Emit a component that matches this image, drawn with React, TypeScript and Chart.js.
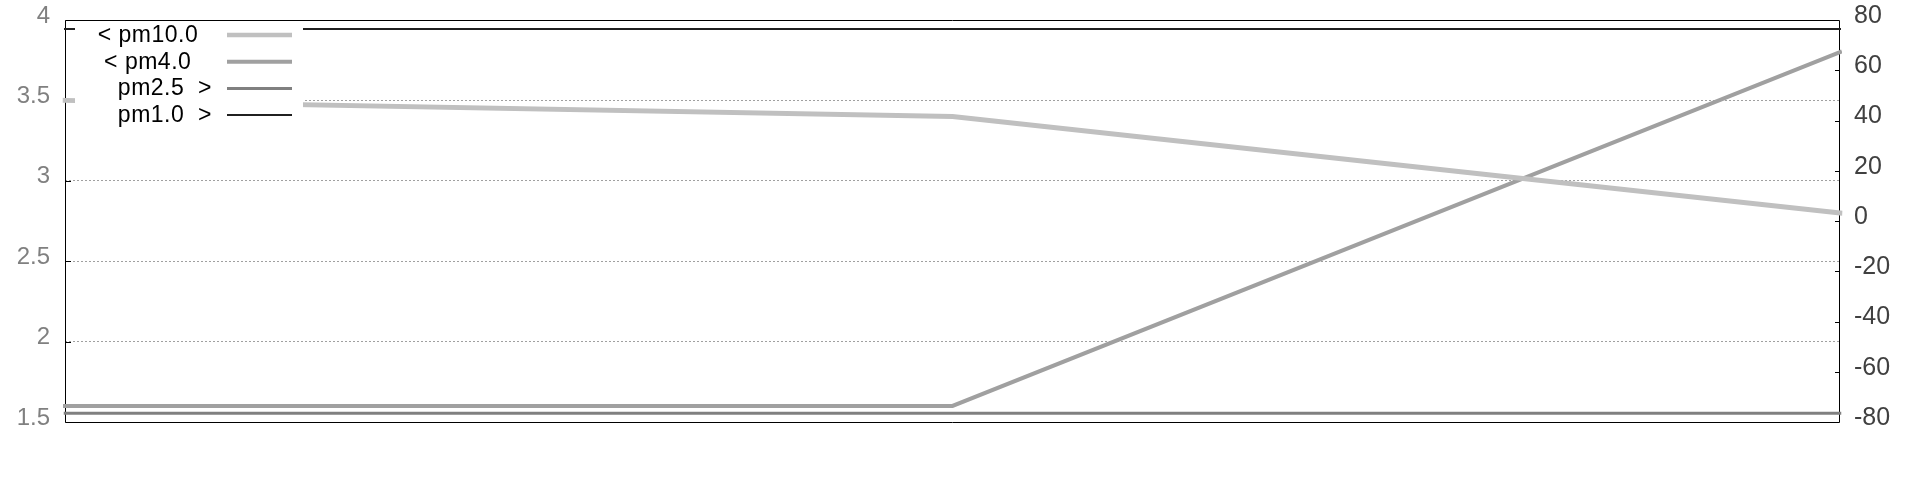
import React, { useEffect, useRef } from "react";
import { Chart, registerables } from "chart.js";

Chart.register(...registerables);

const categories = ["t1", "t2", "t3"];
const pm10Values = [3.5, 3.4, 2.8];
const pm4Values = [1.6, 1.6, 3.8];
const pm25Values = [-76.5, -76.5, -76.5];
const pm1Values = [76.4, 76.4, 76.4];
const seriesLabels = ["< pm10.0  ", "< pm4.0   ", "pm2.5  >", "pm1.0  >"];
const seriesColors = ["#c0c0c0", "#a0a0a0", "#808080", "#202020"];
const seriesWidths = [5, 4, 3, 2];
const leftTicks = { min: 1.5, max: 4, step: 0.5 };
const rightTicks = { min: -80, max: 80, step: 20 };

const FONT = "'Liberation Sans', Arial, sans-serif";

const boxAndTicks = {
  id: "boxAndTicks",
  beforeDatasetsDraw(chart: any) {
    const { ctx, chartArea: a, scales } = chart;
    ctx.save();
    ctx.strokeStyle = "#000";
    ctx.lineWidth = 1;
    ctx.beginPath();
    ctx.rect(a.left + 0.5, a.top + 0.5, a.right - a.left - 1, a.bottom - a.top);
    ctx.stroke();
    const y = scales.y;
    y.ticks.forEach((t: any) => {
      if (t.value <= y.min || t.value >= y.max) return;
      const py = Math.round(y.getPixelForValue(t.value)) + 0.5;
      ctx.beginPath();
      ctx.moveTo(a.left, py);
      ctx.lineTo(a.left + 6, py);
      ctx.stroke();
    });
    const y1 = scales.y1;
    y1.ticks.forEach((t: any) => {
      if (t.value <= y1.min || t.value >= y1.max) return;
      const py = Math.round(y1.getPixelForValue(t.value)) + 0.5;
      ctx.beginPath();
      ctx.moveTo(a.right - 5, py);
      ctx.lineTo(a.right, py);
      ctx.stroke();
    });
    ctx.restore();
  },
};

const keyPlugin = {
  id: "keyPlugin",
  afterDatasetsDraw(chart: any) {
    const { ctx, chartArea: a } = chart;
    ctx.save();
    ctx.fillStyle = "#fff";
    ctx.fillRect(a.left + 10, a.top + 1, 228, 107);
    ctx.font = `23px ${FONT}`;
    (ctx as any).letterSpacing = "0.5px";
    ctx.textAlign = "right";
    ctx.textBaseline = "alphabetic";
    chart.data.datasets.forEach((ds: any, i: number) => {
      const ly = a.top + 15 + i * 26.7;
      ctx.fillStyle = "#000";
      ctx.fillText(ds.label, a.left + 147, ly + 7);
      ctx.strokeStyle = ds.borderColor;
      ctx.lineWidth = Math.min(ds.borderWidth, 4.3);
      ctx.beginPath();
      ctx.moveTo(a.left + 162, ly);
      ctx.lineTo(a.left + 227, ly);
      ctx.stroke();
    });
    ctx.restore();
  },
};

const noPad = (w: number) => (s: any) => {
  s.width = w;
  s.paddingTop = 0;
  s.paddingBottom = 0;
};

export default function App() {
  const ref = useRef<HTMLCanvasElement>(null);
  useEffect(() => {
    document.body.style.margin = "0";
    const mk = (label: string, data: number[], i: number, axis: string) => ({
      label,
      data,
      yAxisID: axis,
      borderColor: seriesColors[i],
      backgroundColor: seriesColors[i],
      borderWidth: seriesWidths[i],
      borderCapStyle: "square" as const,
      pointRadius: 0,
      tension: 0,
      fill: false,
    });
    const chart = new Chart(ref.current!, {
      type: "line",
      data: {
        labels: categories,
        datasets: [
          mk(seriesLabels[0], pm10Values, 0, "y"),
          mk(seriesLabels[1], pm4Values, 1, "y"),
          mk(seriesLabels[2], pm25Values, 2, "y1"),
          mk(seriesLabels[3], pm1Values, 3, "y1"),
        ],
      },
      options: {
        animation: false,
        responsive: false,
        layout: { padding: { top: 20, bottom: 58, left: 0, right: 0 } },
        plugins: { legend: { display: false }, tooltip: { enabled: false } },
        scales: {
          x: { type: "category", display: false, offset: false },
          y: {
            position: "left",
            min: leftTicks.min,
            max: leftTicks.max,
            afterFit: noPad(65),
            ticks: {
              stepSize: leftTicks.step,
              color: "#808080",
              font: { family: FONT, size: 24 },
              padding: 15,
              labelOffset: -4,
              callback: (v: any) => String(Number(v)),
            },
            grid: { color: "#a0a0a0", lineWidth: 1, drawTicks: false },
            border: { display: false, dash: [2, 2] },
          },
          y1: {
            position: "right",
            min: rightTicks.min,
            max: rightTicks.max,
            afterFit: noPad(80),
            ticks: {
              stepSize: rightTicks.step,
              color: "#404040",
              font: { family: FONT, size: 25 },
              padding: 14,
              labelOffset: -4,
              callback: (v: any) => String(Number(v)),
            },
            grid: { display: false, drawTicks: false },
            border: { display: false },
          },
        },
      },
      plugins: [boxAndTicks, keyPlugin],
    });
    return () => chart.destroy();
  }, []);
  return (
    <div style={{ position: "absolute", left: 0, top: 0, width: 1920, height: 480, background: "#fff" }}>
      <canvas ref={ref} width={1920} height={480} style={{ width: 1920, height: 480 }} />
    </div>
  );
}
